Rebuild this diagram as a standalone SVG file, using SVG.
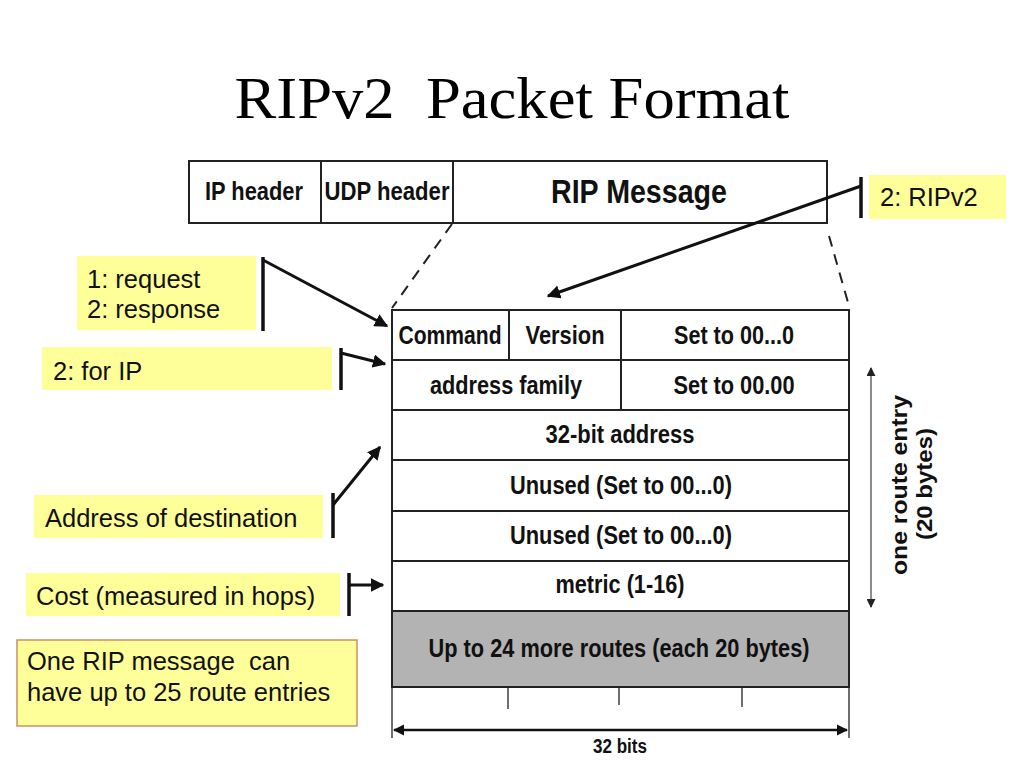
<svg xmlns="http://www.w3.org/2000/svg" width="1024" height="768" viewBox="0 0 1024 768">
<defs>
<style>
.title{font-family:"Liberation Serif","Times New Roman",serif;font-size:60px;fill:#000;white-space:pre}
.nb{font-family:"Liberation Sans Narrow","Liberation Sans",Arial,sans-serif;font-weight:bold;fill:#111}
.cell{fill:#fff;stroke:#222;stroke-width:2}
.gray{fill:#b3b3b3;stroke:#222;stroke-width:2}
.note{fill:#ffff99;stroke:none}
.nt{font-family:"Liberation Sans",Arial,sans-serif;font-size:25.5px;fill:#111;white-space:pre}
.bar{stroke:#111;stroke-width:3.5;fill:none}
.ln{stroke:#111;stroke-width:3;fill:none}
.dash{stroke:#222;stroke-width:2;stroke-dasharray:11 8;fill:none}
.thin{stroke:#222;stroke-width:1.3;fill:none}
</style>
<marker id="ah" viewBox="0 0 10 10" refX="9" refY="5" markerWidth="4.5" markerHeight="4.5" orient="auto-start-reverse" markerUnits="strokeWidth">
<path d="M0,0 L10,5 L0,10 z" fill="#111"/>
</marker>
<marker id="ahg" viewBox="0 0 10 10" refX="9" refY="5" markerWidth="6" markerHeight="6" orient="auto-start-reverse" markerUnits="strokeWidth">
<path d="M0,0 L10,5 L0,10 z" fill="#222"/>
</marker>
</defs>
<rect width="1024" height="768" fill="#fff"/>
<text class="title" x="512" y="118" text-anchor="middle" textLength="555" lengthAdjust="spacingAndGlyphs" xml:space="preserve">RIPv2  Packet Format</text>

<g id="top-bar">
<rect class="cell" x="189" y="161" width="638" height="62"/>
<line class="cell" x1="321" y1="161" x2="321" y2="223"/>
<line class="cell" x1="453" y1="161" x2="453" y2="223"/>
<text class="nb" x="254" y="200" font-size="25" text-anchor="middle" textLength="98" lengthAdjust="spacingAndGlyphs">IP header</text>
<text class="nb" x="387" y="200" font-size="25" text-anchor="middle" textLength="125" lengthAdjust="spacingAndGlyphs">UDP header</text>
<text class="nb" x="639" y="203" font-size="33" text-anchor="middle" textLength="176" lengthAdjust="spacingAndGlyphs">RIP Message</text>
</g>

<g id="rip-table">
<rect class="cell" x="392" y="310" width="457" height="50"/>
<line class="cell" x1="509" y1="310" x2="509" y2="360"/>
<line class="cell" x1="621" y1="310" x2="621" y2="360"/>
<rect class="cell" x="392" y="360" width="457" height="50"/>
<line class="cell" x1="621" y1="360" x2="621" y2="410"/>
<rect class="cell" x="392" y="410" width="457" height="50"/>
<rect class="cell" x="392" y="460" width="457" height="51"/>
<rect class="cell" x="392" y="511" width="457" height="50"/>
<rect class="cell" x="392" y="561" width="457" height="50"/>
<rect class="gray" x="392" y="611" width="457" height="76"/>
<text class="nb" x="450" y="344" font-size="25" text-anchor="middle" textLength="103" lengthAdjust="spacingAndGlyphs">Command</text>
<text class="nb" x="565" y="344" font-size="25" text-anchor="middle" textLength="79" lengthAdjust="spacingAndGlyphs">Version</text>
<text class="nb" x="734" y="344" font-size="25" text-anchor="middle" textLength="120" lengthAdjust="spacingAndGlyphs">Set to 00...0</text>
<text class="nb" x="506" y="394" font-size="25" text-anchor="middle" textLength="152" lengthAdjust="spacingAndGlyphs">address family</text>
<text class="nb" x="734" y="394" font-size="25" text-anchor="middle" textLength="121" lengthAdjust="spacingAndGlyphs">Set to 00.00</text>
<text class="nb" x="620" y="443" font-size="25" text-anchor="middle" textLength="149" lengthAdjust="spacingAndGlyphs">32-bit address</text>
<text class="nb" x="621" y="494" font-size="25" text-anchor="middle" textLength="222" lengthAdjust="spacingAndGlyphs">Unused (Set to 00...0)</text>
<text class="nb" x="621" y="544" font-size="25" text-anchor="middle" textLength="222" lengthAdjust="spacingAndGlyphs">Unused (Set to 00...0)</text>
<text class="nb" x="620" y="593" font-size="25" text-anchor="middle" textLength="129" lengthAdjust="spacingAndGlyphs">metric (1-16)</text>
<text class="nb" x="619" y="657" font-size="25" text-anchor="middle" textLength="381" lengthAdjust="spacingAndGlyphs">Up to 24 more routes (each 20 bytes)</text>
</g>

<g id="bit-scale">
<line class="thin" x1="392" y1="687" x2="392" y2="738"/>
<line class="thin" x1="849" y1="687" x2="849" y2="738"/>
<line class="thin" x1="508" y1="687" x2="508" y2="709"/>
<line class="thin" x1="619" y1="687" x2="619" y2="705"/>
<line class="thin" x1="742" y1="687" x2="742" y2="707"/>
<line x1="394" y1="730" x2="847" y2="730" stroke="#111" stroke-width="2.5" marker-start="url(#ah)" marker-end="url(#ah)"/>
<text class="nb" x="620" y="753" font-size="20" text-anchor="middle" textLength="54" lengthAdjust="spacingAndGlyphs">32 bits</text>
</g>

<g id="route-entry-size">
<line x1="871" y1="368" x2="871" y2="607" stroke="#666" stroke-width="1.5" marker-start="url(#ahg)" marker-end="url(#ahg)"/>
<text class="nb" font-size="22" text-anchor="middle" transform="translate(907,485) rotate(-90)" textLength="180" lengthAdjust="spacingAndGlyphs" style="font-family:'Liberation Sans',Arial,sans-serif">one route entry</text>
<text class="nb" font-size="22" text-anchor="middle" transform="translate(932,484) rotate(-90)" textLength="112" lengthAdjust="spacingAndGlyphs" style="font-family:'Liberation Sans',Arial,sans-serif">(20 bytes)</text>
</g>

<g id="note-ripv2">
<rect class="note" x="869" y="175" width="137" height="44"/>
<text class="nt" x="880" y="206">2: RIPv2</text>
<line class="bar" x1="861" y1="177" x2="861" y2="218"/>
</g>

<g id="note-command">
<rect class="note" x="77" y="256" width="179" height="74"/>
<text class="nt" x="87" y="288">1: request</text>
<text class="nt" x="87" y="318">2: response</text>
<line class="bar" x1="263" y1="257" x2="263" y2="331"/>
</g>

<g id="note-family">
<rect class="note" x="42" y="347" width="290" height="43"/>
<text class="nt" x="53" y="380">2: for IP</text>
<line class="bar" x1="341" y1="348" x2="341" y2="390"/>
</g>

<g id="note-address">
<rect class="note" x="34" y="495" width="289" height="43"/>
<text class="nt" x="45" y="527">Address of destination</text>
<line class="bar" x1="333" y1="493" x2="333" y2="538"/>
</g>

<g id="note-cost">
<rect class="note" x="26" y="573" width="314" height="43"/>
<text class="nt" x="36" y="605">Cost (measured in hops)</text>
<line class="bar" x1="349" y1="573" x2="349" y2="616"/>
</g>

<g id="note-entries">
<rect x="17" y="640" width="340" height="86" fill="#ffff99" stroke="#c9916a" stroke-width="1.5"/>
<text class="nt" x="27" y="670" xml:space="preserve">One RIP message  can</text>
<text class="nt" x="27" y="701">have up to 25 route entries</text>
</g>

<g id="connectors">
<line class="dash" x1="452" y1="224" x2="392" y2="308"/>
<line class="dash" x1="829" y1="236" x2="849" y2="306"/>
<line class="ln" x1="861" y1="186" x2="548" y2="296" marker-end="url(#ah)"/>
<line class="ln" x1="263" y1="260" x2="387" y2="326" marker-end="url(#ah)"/>
<line class="ln" x1="341" y1="353" x2="385" y2="364" marker-end="url(#ah)"/>
<line class="ln" x1="333" y1="505" x2="380" y2="447" marker-end="url(#ah)"/>
<line class="ln" x1="349" y1="585" x2="383" y2="585" marker-end="url(#ah)"/>
</g>
</svg>
